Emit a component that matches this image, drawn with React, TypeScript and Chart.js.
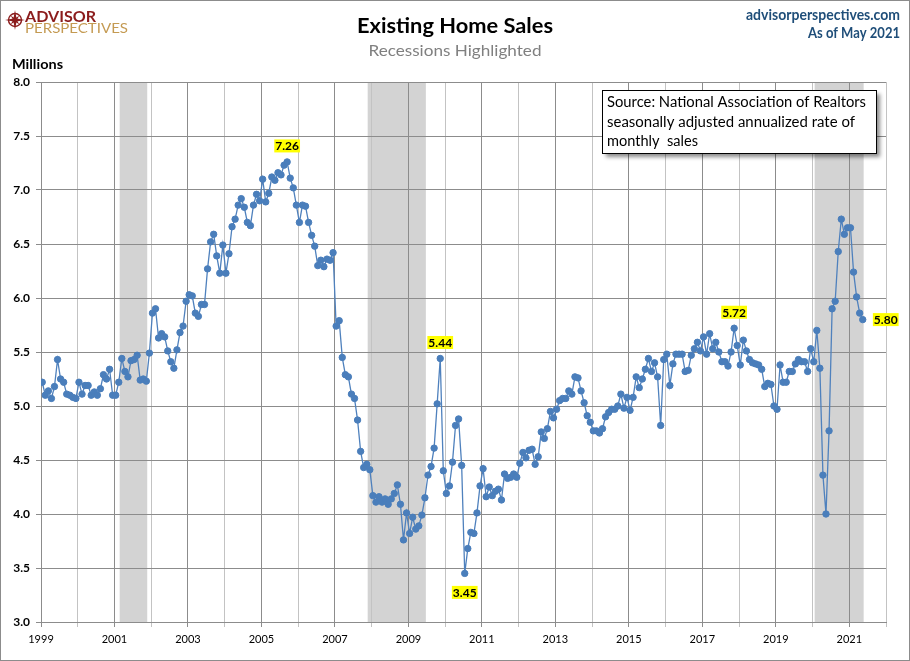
import React, { useEffect, useRef } from 'react';
import { Chart, registerables } from 'chart.js';

Chart.register(...registerables);

const FIRST_YEAR = 1999;

// Existing home sales, millions (SAAR), one array per year
const sales1999 = [5.22, 5.10, 5.14, 5.07, 5.18, 5.43, 5.25, 5.22, 5.11, 5.10, 5.08, 5.07];
const sales2000 = [5.22, 5.11, 5.19, 5.19, 5.10, 5.13, 5.10, 5.16, 5.29, 5.25, 5.34, 5.10];
const sales2001 = [5.10, 5.22, 5.44, 5.32, 5.27, 5.42, 5.43, 5.47, 5.24, 5.25, 5.23, 5.49];
const sales2002 = [5.86, 5.90, 5.63, 5.67, 5.64, 5.51, 5.41, 5.35, 5.52, 5.68, 5.74, 5.97];
const sales2003 = [6.03, 6.02, 5.86, 5.83, 5.94, 5.94, 6.27, 6.52, 6.59, 6.39, 6.23, 6.49];
const sales2004 = [6.23, 6.41, 6.66, 6.73, 6.86, 6.92, 6.84, 6.70, 6.67, 6.86, 6.96, 6.90];
const sales2005 = [7.10, 6.89, 6.97, 7.12, 7.09, 7.16, 7.14, 7.23, 7.26, 7.11, 7.02, 6.86];
const sales2006 = [6.70, 6.86, 6.85, 6.70, 6.58, 6.48, 6.30, 6.35, 6.29, 6.36, 6.35, 6.42];
const sales2007 = [5.74, 5.79, 5.45, 5.29, 5.27, 5.11, 5.07, 4.87, 4.58, 4.43, 4.46, 4.41];
const sales2008 = [4.17, 4.11, 4.16, 4.11, 4.14, 4.09, 4.14, 4.19, 4.27, 4.09, 3.76, 4.01];
const sales2009 = [3.82, 3.97, 3.86, 3.89, 3.99, 4.15, 4.36, 4.44, 4.61, 5.02, 5.44, 4.40];
const sales2010 = [4.19, 4.26, 4.48, 4.82, 4.88, 4.45, 3.45, 3.68, 3.83, 3.82, 4.01, 4.26];
const sales2011 = [4.42, 4.16, 4.25, 4.17, 4.21, 4.23, 4.13, 4.37, 4.33, 4.34, 4.37, 4.34];
const sales2012 = [4.47, 4.57, 4.52, 4.59, 4.60, 4.46, 4.53, 4.76, 4.70, 4.79, 4.95, 4.89];
const sales2013 = [4.97, 5.05, 5.07, 5.07, 5.14, 5.11, 5.27, 5.26, 5.14, 5.03, 4.91, 4.85];
const sales2014 = [4.77, 4.77, 4.75, 4.79, 4.90, 4.94, 4.97, 4.97, 5.00, 5.11, 4.98, 5.08];
const sales2015 = [4.96, 5.08, 5.27, 5.17, 5.25, 5.34, 5.44, 5.32, 5.40, 5.27, 4.82, 5.43];
const sales2016 = [5.48, 5.19, 5.39, 5.48, 5.48, 5.48, 5.32, 5.33, 5.47, 5.53, 5.59, 5.51];
const sales2017 = [5.64, 5.48, 5.67, 5.53, 5.59, 5.50, 5.41, 5.41, 5.37, 5.50, 5.72, 5.56];
const sales2018 = [5.38, 5.61, 5.51, 5.43, 5.40, 5.39, 5.38, 5.34, 5.18, 5.21, 5.20, 5.00];
const sales2019 = [4.97, 5.38, 5.22, 5.22, 5.32, 5.32, 5.39, 5.43, 5.41, 5.41, 5.32, 5.53];
const sales2020 = [5.41, 5.70, 5.35, 4.36, 4.00, 4.77, 5.90, 5.97, 6.43, 6.73, 6.59, 6.65];
const sales2021 = [6.65, 6.24, 6.01, 5.86, 5.80];

const salesByYear = [
  sales1999, sales2000, sales2001, sales2002, sales2003, sales2004, sales2005, sales2006,
  sales2007, sales2008, sales2009, sales2010, sales2011, sales2012, sales2013, sales2014,
  sales2015, sales2016, sales2017, sales2018, sales2019, sales2020, sales2021,
];
const monthlySales: number[] = salesByYear.flat();

const xTickLabels = ['1999', '2001', '2003', '2005', '2007', '2009', '2011', '2013', '2015', '2017', '2019', '2021'];
const gridYears = 24; // 1999 .. 2022 year boundaries

const recessionStart = ['2001-03', '2007-12', '2020-02'];
const recessionEnd = ['2001-11', '2009-06', '2021-05'];

const calloutMonths = ['2005-09', '2009-11', '2010-07', '2017-11', '2021-05'];
const calloutPlaces = ['above', 'above', 'below', 'above', 'right'];

const monthIndex = (ym: string) => {
  const [y, m] = ym.split('-').map(Number);
  return (y - FIRST_YEAR) * 12 + (m - 1);
};

const FONT = 'Lato, "Noto Sans", "DejaVu Sans", sans-serif';
const LINE_BLUE = '#4f81bd';
const DOT_BLUE = '#4a7ebb';
const GRID_DARK = '#8c8c8c';
const GRID_LIGHT = '#c3c3c3';

function drawText(
  ctx: CanvasRenderingContext2D,
  text: string,
  x: number,
  y: number,
  size: number,
  weight: string,
  color: string,
  align: 'left' | 'center' | 'right',
  width?: number,
) {
  ctx.save();
  ctx.font = `${weight} ${size}px ${FONT}`;
  ctx.fillStyle = color;
  ctx.textBaseline = 'alphabetic';
  ctx.textAlign = 'left';
  const w = ctx.measureText(text).width;
  let sx = width ? width / w : 1;
  sx = Math.max(0.75, Math.min(1.25, sx));
  const dw = w * sx;
  const left = align === 'center' ? x - dw / 2 : align === 'right' ? x - dw : x;
  ctx.translate(left, y);
  ctx.scale(sx, 1);
  ctx.fillText(text, 0, 0);
  ctx.restore();
}

const recessionPlugin = {
  id: 'recessions',
  beforeDraw(chart: any) {
    const { ctx, chartArea, scales } = chart;
    const x = scales.x;
    ctx.save();
    ctx.fillStyle = '#ffffff';
    ctx.fillRect(0, 0, chart.width, chart.height);
    ctx.fillStyle = '#d3d3d3';
    recessionStart.forEach((s, i) => {
      const a = x.getPixelForValue(monthIndex(s) - 0.7);
      const b = x.getPixelForValue(monthIndex(recessionEnd[i]) + 0.3);
      ctx.fillRect(a, chartArea.top, b - a, chartArea.bottom - chartArea.top);
    });
    ctx.restore();
  },
};

const calloutPlugin = {
  id: 'callouts',
  afterDatasetsDraw(chart: any) {
    const { ctx } = chart;
    const meta = chart.getDatasetMeta(0);
    ctx.save();
    ctx.font = `bold 12px ${FONT}`;
    ctx.textAlign = 'center';
    ctx.textBaseline = 'middle';
    calloutMonths.forEach((m, i) => {
      const idx = monthIndex(m);
      const pt = meta.data[idx];
      if (!pt) return;
      const text = monthlySales[idx].toFixed(2);
      const w = ctx.measureText(text).width + 2;
      const h = 13;
      let cx = pt.x;
      let cy = pt.y;
      if (calloutPlaces[i] === 'above') cy -= 16;
      else if (calloutPlaces[i] === 'below') cy += 19;
      else cx += 23;
      ctx.fillStyle = '#ffff00';
      ctx.fillRect(cx - w / 2, cy - h / 2, w, h);
      ctx.fillStyle = '#000000';
      ctx.fillText(text, cx, cy + 0.5);
    });
    ctx.restore();
  },
};

const decorPlugin = {
  id: 'decor',
  afterDraw(chart: any) {
    const { ctx } = chart;
    // Logo icon
    ctx.save();
    const cx = 15, cy = 20;
    ctx.strokeStyle = '#8b1c1c';
    ctx.lineWidth = 1.4;
    ctx.beginPath();
    ctx.arc(cx, cy, 6.5, 0, Math.PI * 2);
    ctx.stroke();
    ctx.fillStyle = '#8b1c1c';
    const star = (outer: number, inner: number, rot: number) => {
      ctx.beginPath();
      for (let k = 0; k < 8; k++) {
        const r = k % 2 === 0 ? outer : inner;
        const a = rot + (k * Math.PI) / 4;
        const px = cx + r * Math.sin(a);
        const py = cy - r * Math.cos(a);
        if (k === 0) ctx.moveTo(px, py); else ctx.lineTo(px, py);
      }
      ctx.closePath();
      ctx.fill();
    };
    star(10, 2.2, 0);
    star(6, 1.8, Math.PI / 4);
    ctx.restore();

    drawText(ctx, 'ADVISOR', 25, 22, 15, 'bold', '#8b1c1c', 'left', 71);
    drawText(ctx, 'PERSPECTIVES', 25, 32.5, 14, 'normal', '#c49a52', 'left', 103);

    drawText(ctx, 'Existing Home Sales', 455, 33, 21, 'bold', '#000000', 'center', 196);
    drawText(ctx, 'Recessions Highlighted', 455, 56, 16, 'normal', '#808080', 'center', 173);

    drawText(ctx, 'advisorperspectives.com', 900, 20, 15, 'bold', '#1f4e79', 'right', 154);
    drawText(ctx, 'As of May 2021', 900, 37.5, 15, 'bold', '#1f4e79', 'right', 92);

    drawText(ctx, 'Millions', 12, 69, 14, 'bold', '#000000', 'left', 51);

    // Source box
    ctx.save();
    ctx.shadowColor = 'rgba(0,0,0,0.45)';
    ctx.shadowOffsetX = 3;
    ctx.shadowOffsetY = 3;
    ctx.shadowBlur = 4;
    ctx.fillStyle = '#ffffff';
    ctx.fillRect(602.5, 90.5, 274, 63);
    ctx.restore();
    ctx.save();
    ctx.strokeStyle = '#000000';
    ctx.lineWidth = 1;
    ctx.strokeRect(602.5, 90.5, 274, 63);
    ctx.restore();
    drawText(ctx, 'Source: National Association of Realtors', 607, 106.5, 14.5, 'normal', '#000000', 'left', 259);
    drawText(ctx, 'seasonally adjusted annualized rate of', 607, 126.5, 14.5, 'normal', '#000000', 'left', 248);
    drawText(ctx, 'monthly  sales', 607, 146, 14.5, 'normal', '#000000', 'left', 91);

    // Outer frame
    ctx.save();
    ctx.strokeStyle = '#8c8c8c';
    ctx.lineWidth = 1;
    ctx.strokeRect(0.5, 0.5, chart.width - 1, chart.height - 1);
    ctx.restore();
  },
};

export default function App() {
  const ref = useRef<HTMLCanvasElement>(null);

  useEffect(() => {
    const canvas = ref.current;
    if (!canvas) return;
    const points = monthlySales.map((v, i) => ({ x: i, y: v }));
    const chart = new Chart(canvas, {
      type: 'line',
      data: {
        datasets: [
          {
            data: points,
            borderColor: LINE_BLUE,
            borderWidth: 1.3,
            backgroundColor: DOT_BLUE,
            pointBackgroundColor: DOT_BLUE,
            pointBorderColor: DOT_BLUE,
            pointRadius: 3.2,
            pointBorderWidth: 1,
            tension: 0,
            fill: false,
          },
        ],
      },
      options: {
        responsive: false,
        animation: false,
        events: [],
        layout: { padding: { top: 82, right: 24, bottom: 9, left: 0 } },
        plugins: {
          legend: { display: false },
          tooltip: { enabled: false },
          title: { display: false },
        },
        scales: {
          x: {
            type: 'linear',
            min: -0.4,
            max: (gridYears - 1) * 12 - 0.4,
            afterBuildTicks: (scale: any) => {
              scale.ticks = Array.from({ length: gridYears }, (_, k) => ({ value: k * 12 - 0.4 }));
            },
            afterFit: (scale: any) => {
              scale.height = 30;
            },
            ticks: {
              autoSkip: false,
              maxRotation: 0,
              minRotation: 0,
              padding: 6,
              color: '#000000',
              font: { family: FONT, size: 11 },
              callback: (_v: any, index: number) => (index % 2 === 0 ? xTickLabels[index / 2] ?? '' : ''),
            },
            grid: {
              color: (c: any) => (c.index % 2 === 0 ? GRID_DARK : GRID_LIGHT),
              tickColor: (c: any) => (c.index % 2 === 0 ? GRID_DARK : GRID_LIGHT),
              lineWidth: 1,
              tickLength: 5,
            },
            border: { color: GRID_DARK, width: 1 },
          },
          y: {
            type: 'linear',
            min: 3,
            max: 8,
            afterFit: (scale: any) => {
              scale.width = 41;
            },
            ticks: {
              stepSize: 0.5,
              padding: 6,
              color: '#000000',
              font: { family: FONT, size: 12, weight: 'bold' },
              callback: (v: any) => Number(v).toFixed(1),
            },
            grid: {
              color: GRID_DARK,
              tickColor: GRID_DARK,
              lineWidth: 1,
              tickLength: 5,
            },
            border: { color: GRID_DARK, width: 1 },
          },
        },
      },
      plugins: [recessionPlugin, calloutPlugin, decorPlugin],
    } as any);
    return () => chart.destroy();
  }, []);

  return (
    <div style={{ position: 'absolute', left: 0, top: 0, width: 910, height: 661, background: '#ffffff' }}>
      <canvas ref={ref} width={910} height={661} style={{ display: 'block', width: 910, height: 661 }} />
    </div>
  );
}
